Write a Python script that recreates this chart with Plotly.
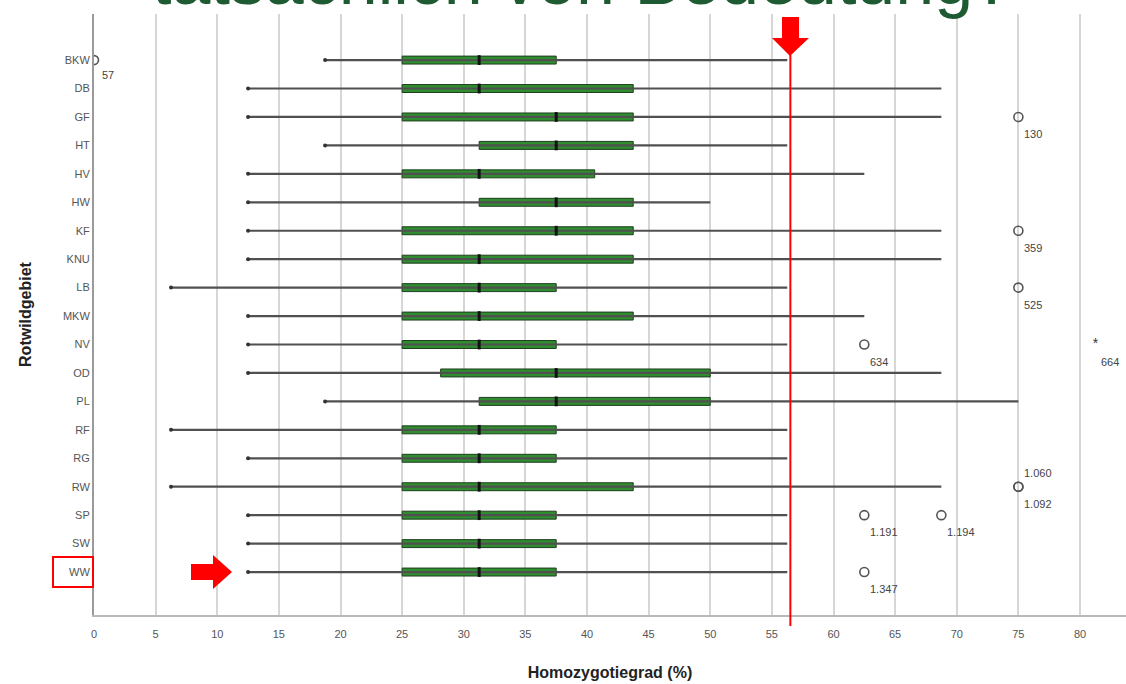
import plotly.graph_objects as go

# ---------------- data ----------------
areas = ["BKW", "DB", "GF", "HT", "HV", "HW", "KF", "KNU", "LB", "MKW",
         "NV", "OD", "PL", "RF", "RG", "RW", "SP", "SW", "WW"]
whisker_low = [18.75, 12.5, 12.5, 18.75, 12.5, 12.5, 12.5, 12.5, 6.25, 12.5,
               12.5, 12.5, 18.75, 6.25, 12.5, 6.25, 12.5, 12.5, 12.5]
q1 = [25, 25, 25, 31.25, 25, 31.25, 25, 25, 25, 25,
      25, 28.125, 31.25, 25, 25, 25, 25, 25, 25]
median = [31.25, 31.25, 37.5, 37.5, 31.25, 37.5, 37.5, 31.25, 31.25, 31.25,
          31.25, 37.5, 37.5, 31.25, 31.25, 31.25, 31.25, 31.25, 31.25]
q3 = [37.5, 43.75, 43.75, 43.75, 40.625, 43.75, 43.75, 43.75, 37.5, 43.75,
      37.5, 50, 50, 37.5, 37.5, 43.75, 37.5, 37.5, 37.5]
whisker_high = [56.25, 68.75, 68.75, 56.25, 62.5, 50, 68.75, 68.75, 56.25, 62.5,
                56.25, 68.75, 75, 56.25, 56.25, 68.75, 56.25, 56.25, 56.25]

outlier_area = ["BKW", "GF", "KF", "LB", "NV", "RW", "RW", "SP", "SP", "WW"]
outlier_value = [0, 75, 75, 75, 62.5, 75, 75, 62.5, 68.75, 62.5]
outlier_label = ["57", "130", "359", "525", "634", "1.060", "1.092", "1.191", "1.194", "1.347"]

extreme_area = ["NV"]
extreme_value = [81.25]
extreme_label = ["664"]

threshold = 56.5
x_ticks = list(range(0, 85, 5))

title_text = "tatsächlich von Bedeutung?"
x_title = "Homozygotiegrad (%)"
y_title = "Rotwildgebiet"

# ---------------- geometry helpers ----------------
W, H = 1126, 684
L, R, T, B = 94, 0, 14, 69
PW, PH = W - L - R, H - T - B


def px(p):
    return (p - L) / PW


def py(p):
    return (H - B - p) / PH


yidx = {a: i for i, a in enumerate(areas)}
yi = [yidx[a] for a in areas]

fig = go.Figure()

# whiskers
wx, wy = [], []
for i, a in enumerate(areas):
    wx += [whisker_low[i], whisker_high[i], None]
    wy += [yi[i], yi[i], None]
fig.add_trace(go.Scatter(x=wx, y=wy, mode="lines",
                         line=dict(color="#505050", width=2.2), hoverinfo="skip"))
# whisker end dots
fig.add_trace(go.Scatter(x=whisker_low, y=yi, mode="markers",
                         marker=dict(color="#333333", size=4), hoverinfo="skip"))
# boxes
fig.add_trace(go.Bar(y=yi, x=[q3[i] - q1[i] for i in range(len(areas))], base=q1,
                     orientation="h", width=0.28,
                     marker=dict(color="#2f8c2f", line=dict(color="#1f3f1f", width=1))))
# medians
fig.add_trace(go.Scatter(x=median, y=yi, mode="markers",
                         marker=dict(symbol="line-ns", size=7,
                                     line=dict(color="#111111", width=3)),
                         hoverinfo="skip"))
# outliers
fig.add_trace(go.Scatter(x=outlier_value, y=[yidx[a] for a in outlier_area], mode="markers",
                         marker=dict(symbol="circle-open", size=9, color="#555555",
                                     line=dict(color="#555555", width=1.6)),
                         hoverinfo="skip"))
fig.add_trace(go.Scatter(x=extreme_value, y=[yidx[a] for a in extreme_area], mode="text",
                         text=["*"], textfont=dict(size=14, color="#333333"),
                         hoverinfo="skip"))

# outlier labels
label_shift = {"1.060": (20, 14)}
for v, a, lab in zip(outlier_value + extreme_value, outlier_area + extreme_area,
                     outlier_label + extreme_label):
    dx, dy = label_shift.get(lab, (20 if len(lab) > 3 else 15, -17))
    if lab == "57":
        dx, dy = (14, -15)
    fig.add_annotation(x=v, y=yidx[a], xref="x", yref="y", text=lab, showarrow=False,
                       xshift=dx, yshift=dy, font=dict(size=11, color="#444444",
                                                       family="Arial"))

# threshold line (extends slightly below the axis)
fig.add_shape(type="line", xref="x", yref="paper", x0=threshold, x1=threshold,
              y0=py(626), y1=py(55), line=dict(color="#ff0000", width=2), layer="above")


def poly(points):
    s = "M " + " L ".join(f"{px(a):.5f},{py(b):.5f}" for a, b in points) + " Z"
    return s


# red down arrow above the threshold line
fig.add_shape(type="path", xref="paper", yref="paper",
              path=poly([(782, 17), (799, 17), (799, 38), (809, 38), (790, 56),
                         (772, 38), (782, 38)]),
              fillcolor="#ff0000", line=dict(width=0), layer="above")
# red right arrow near WW
fig.add_shape(type="path", xref="paper", yref="paper",
              path=poly([(191, 564), (213, 564), (213, 555), (232, 572), (213, 589),
                         (213, 580), (191, 580)]),
              fillcolor="#ff0000", line=dict(width=0), layer="above")
# red frame around WW label
fig.add_shape(type="rect", xref="paper", yref="paper",
              x0=px(53), x1=px(93), y0=py(587), y1=py(557),
              line=dict(color="#ff0000", width=2), layer="above")

# cut-off title at top
fig.add_annotation(xref="paper", yref="paper", x=px(582), y=py(21), yanchor="bottom",
                   xanchor="center", text=title_text, showarrow=False,
                   font=dict(size=70, color="#1e5a32", family="Arial"))

fig.update_layout(
    width=W, height=H,
    margin=dict(l=L, r=R, t=T, b=B, autoexpand=False),
    plot_bgcolor="white", paper_bgcolor="white",
    showlegend=False,
    font=dict(family="Arial", color="#444444"),
    xaxis=dict(range=[0, PW / 12.325], tickvals=x_ticks, ticktext=[str(t) for t in x_ticks],
               showgrid=True, gridcolor="#d6d6d6", gridwidth=2,
               showline=True, linecolor="#b8b8b8", linewidth=2,
               ticks="", tickfont=dict(size=11, color="#555555"),
               ticklabelstandoff=8, zeroline=False, automargin=False,
               title=dict(text="<b>" + x_title + "</b>",
                          font=dict(size=16, color="#222222"), standoff=28)),
    yaxis=dict(range=[19.51, -1.62], tickvals=yi, ticktext=areas,
               showgrid=False, showline=True, linecolor="#9a9a9a", linewidth=2,
               ticks="", tickfont=dict(size=11, color="#555555"), zeroline=False,
               automargin=False,
               title=dict(text="<b>" + y_title + "</b>",
                          font=dict(size=16, color="#222222"), standoff=27)),
)

fig.write_html("out.html", config={"displayModeBar": False},
               post_script="document.body.style.margin='0';document.body.style.overflow='hidden';")
